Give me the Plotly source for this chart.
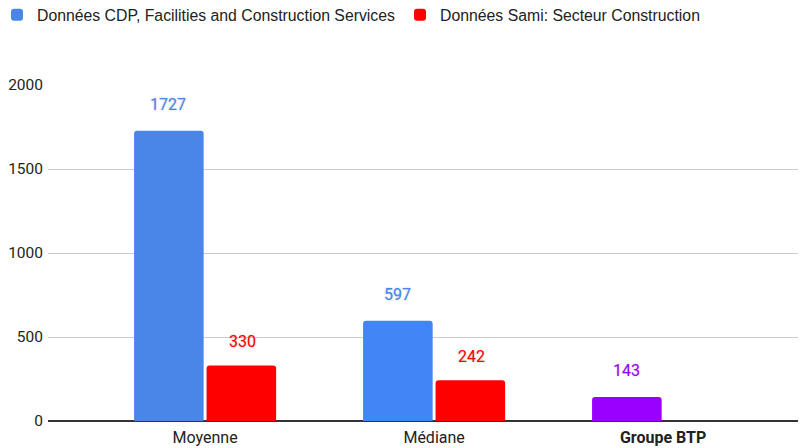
import plotly.graph_objects as go

# Données du graphique
categories = ["Moyenne", "Médiane", "Groupe BTP"]
tick_labels = ["Moyenne", "Médiane", "<b>Groupe BTP</b>"]
cdp_name = "Données CDP, Facilities and Construction Services"
sami_name = "Données Sami: Secteur Construction"
cdp_values = [1727, 597, 143]
sami_values = [330, 242, None]
cdp_colors = ["#4a86e8", "#4285f4", "#9900ff"]
sami_color = "#ff0000"

fig = go.Figure()

fig.add_trace(go.Bar(x=categories, y=cdp_values, name=cdp_name,
                     marker=dict(color=cdp_colors, line_width=0)))
fig.add_trace(go.Bar(x=categories, y=sami_values, name=sami_name,
                     marker=dict(color=sami_color, line_width=0)))

# Etiquettes de valeurs au-dessus des barres
label_font = dict(family="Roboto", size=16,
                  shadow="0px 0px 2px #bbbbbb")
for i, v in enumerate(cdp_values):
    fig.add_annotation(x=categories[i], y=v, text=str(v), showarrow=False,
                       xshift=-37, yshift=26,
                       font=dict(label_font, color=cdp_colors[i]))
for i, v in enumerate(sami_values):
    if v is None:
        continue
    fig.add_annotation(x=categories[i], y=v, text=str(v), showarrow=False,
                       xshift=37, yshift=24,
                       font=dict(label_font, color=sami_color))

# la page ajoute une marge de 8px autour de la figure : on la compense
fig.update_layout(
    width=798, height=440,
    margin=dict(l=40, r=0, t=77, b=27, autoexpand=False),
    plot_bgcolor="white", paper_bgcolor="white",
    barmode="group", bargap=0.367, bargroupgap=0.04,
    barcornerradius=3,
    font=dict(family="Roboto", size=16, color="#222222"),
    legend=dict(orientation="h", x=-0.0673, xanchor="left",
                y=1.259, yanchor="top",
                font=dict(family="Liberation Sans, Arial", size=15.8, color="#222222"),
                itemwidth=30),
    showlegend=True,
)

fig.update_xaxes(range=[-0.686, 2.624], tickvals=categories, ticktext=tick_labels,
                 showgrid=False, showline=False, ticks="", automargin=False,
                 ticklabelstandoff=5,
                 tickfont=dict(family="Roboto", size=16, color="#222222"))
fig.update_yaxes(range=[0, 2000], tickvals=[0, 500, 1000, 1500, 2000],
                 showgrid=True, gridcolor="#cccccc", gridwidth=1,
                 zeroline=True, zerolinecolor="#333333", zerolinewidth=1.5,
                 ticks="", ticklabelstandoff=4, automargin=False,
                 tickfont=dict(family="Roboto", size=15.5, color="#222222"))

fig.write_html("out.html")
